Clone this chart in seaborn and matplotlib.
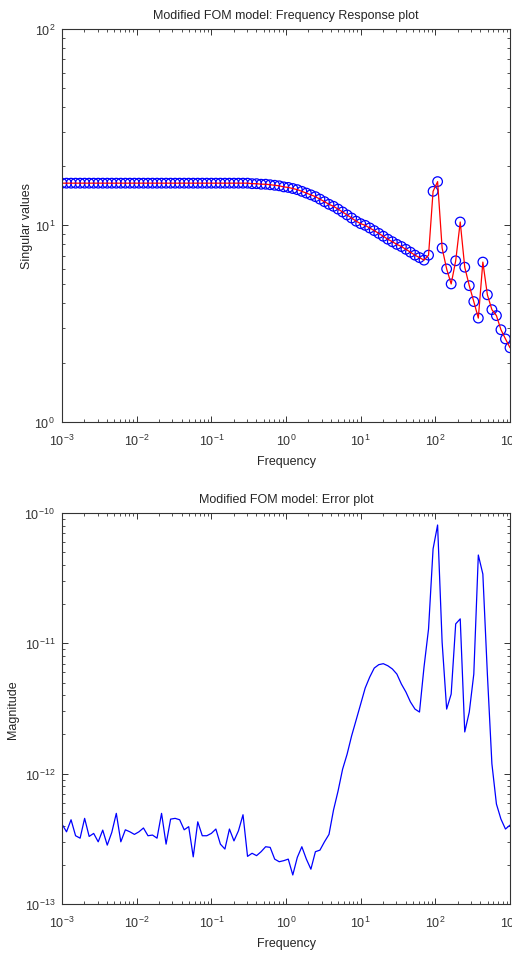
import numpy as np
import pandas as pd
import matplotlib
matplotlib.use("Agg")
import matplotlib.pyplot as plt
import seaborn as sns

# frequency grid (logspace, 100 points from 1e-3 to 1e3)
freq = np.logspace(-3, 3, 100)

# singular values of the modified FOM model
sing_vals = [16.4] * 42 + [
    16.3, 16.3, 16.2, 16.2, 16.1, 16.0, 15.9, 15.7,
    15.6, 15.4, 15.2, 14.9, 14.6, 14.3, 14.0, 13.6, 13.2, 12.8,
    12.5, 12.1, 11.7, 11.3, 10.9, 10.5, 10.2, 10.0, 9.7, 9.4,
    9.1, 8.8, 8.5, 8.25, 8.0, 7.8, 7.55, 7.3, 7.05, 6.85,
    6.65, 7.05, 14.9, 16.7, 7.66, 6.0, 5.03, 6.6, 10.4, 6.12,
    4.93, 4.09, 3.37, 6.5, 4.43, 3.72, 3.47, 2.94, 2.64, 2.38,
]

# error magnitude (units of 1e-13)
err_e13 = [
    4.10, 3.58, 4.43, 3.34, 3.20, 4.54, 3.30, 3.48, 3.00, 3.69,
    2.83, 3.54, 4.96, 3.00, 3.71, 3.58, 3.42, 3.58, 3.83, 3.34,
    3.38, 3.20, 4.96, 2.88, 4.48, 4.54, 4.43, 3.71, 3.92, 2.30,
    4.27, 3.34, 3.34, 3.48, 3.76, 2.88, 2.64, 3.76, 3.05, 3.65,
    4.84, 2.32, 2.45, 2.35, 2.52, 2.75, 2.72, 2.21, 2.11, 2.15,
    2.21, 1.67, 2.28, 2.75, 2.21, 1.85, 2.52, 2.59, 3.00, 3.42,
    5.26, 7.35, 10.8, 14.1, 19.5, 25.8, 34.2, 45.4, 55.1, 64.6,
    68.6, 69.8, 67.3, 63.6, 58.1, 48.7, 42.3, 35.5, 31.3, 29.7,
    65.8, 129, 530, 809, 102, 31.3, 40.8, 141, 154, 20.9,
    29.7, 58.1, 476, 340, 58.1, 11.9, 5.85, 4.48, 3.76, 4.03,
]
err = np.array(err_e13) * 1e-13

sns.set_style("ticks")
plt.rcParams["font.family"] = ["Liberation Sans", "DejaVu Sans"]
plt.rcParams["font.size"] = 9
plt.rcParams["axes.linewidth"] = 0.8
for ax_ in ("x", "y"):
    plt.rcParams[f"{ax_}tick.direction"] = "in"
    plt.rcParams[f"{ax_}tick.major.size"] = 4
    plt.rcParams[f"{ax_}tick.minor.size"] = 2.2
    plt.rcParams[f"{ax_}tick.major.width"] = 0.7
    plt.rcParams[f"{ax_}tick.minor.width"] = 0.6
    plt.rcParams[f"{ax_}tick.color"] = "#333333"

fig = plt.figure(figsize=(5.12, 9.54), dpi=100)
ax1 = fig.add_axes([62 / 512, 1 - 422.7 / 954, 448 / 512, 392.7 / 954])
ax2 = fig.add_axes([62 / 512, 1 - 905 / 954, 448 / 512, 391 / 954])

df1 = pd.DataFrame({"Frequency": freq, "sv": sing_vals})
sns.lineplot(data=df1, x="Frequency", y="sv", color="red", lw=0.9, ax=ax1)
sns.scatterplot(data=df1, x="Frequency", y="sv", marker="o", s=48,
                facecolors="none", edgecolor="blue", linewidth=0.9, ax=ax1)
ax1.set_xscale("log")
ax1.set_yscale("log")
ax1.set_xlim(1e-3, 1e3)
ax1.set_ylim(1, 100)
ax1.set_title("Modified FOM model: Frequency Response plot", fontsize=9, pad=8)
ax1.set_ylabel("Singular values", labelpad=1)
ax1.set_xlabel("Frequency", labelpad=5)

df2 = pd.DataFrame({"Frequency": freq, "err": err})
sns.lineplot(data=df2, x="Frequency", y="err", color="blue", lw=0.9, ax=ax2)
ax2.set_xscale("log")
ax2.set_yscale("log")
ax2.set_xlim(1e-3, 1e3)
ax2.set_ylim(1e-13, 1e-10)
ax2.set_title("Modified FOM model: Error plot", fontsize=9, pad=8)
ax2.set_ylabel("Magnitude", labelpad=4)
ax2.set_xlabel("Frequency", labelpad=5)

for ax in (ax1, ax2):
    ax.tick_params(which="both", top=True, right=True)
    ax.tick_params(axis="x", which="major", labelsize=9, pad=8)
    ax.tick_params(axis="y", which="major", labelsize=9, pad=5)
    for sp in ax.spines.values():
        sp.set_color("#333333")

fig.savefig("out.png", dpi=100)
